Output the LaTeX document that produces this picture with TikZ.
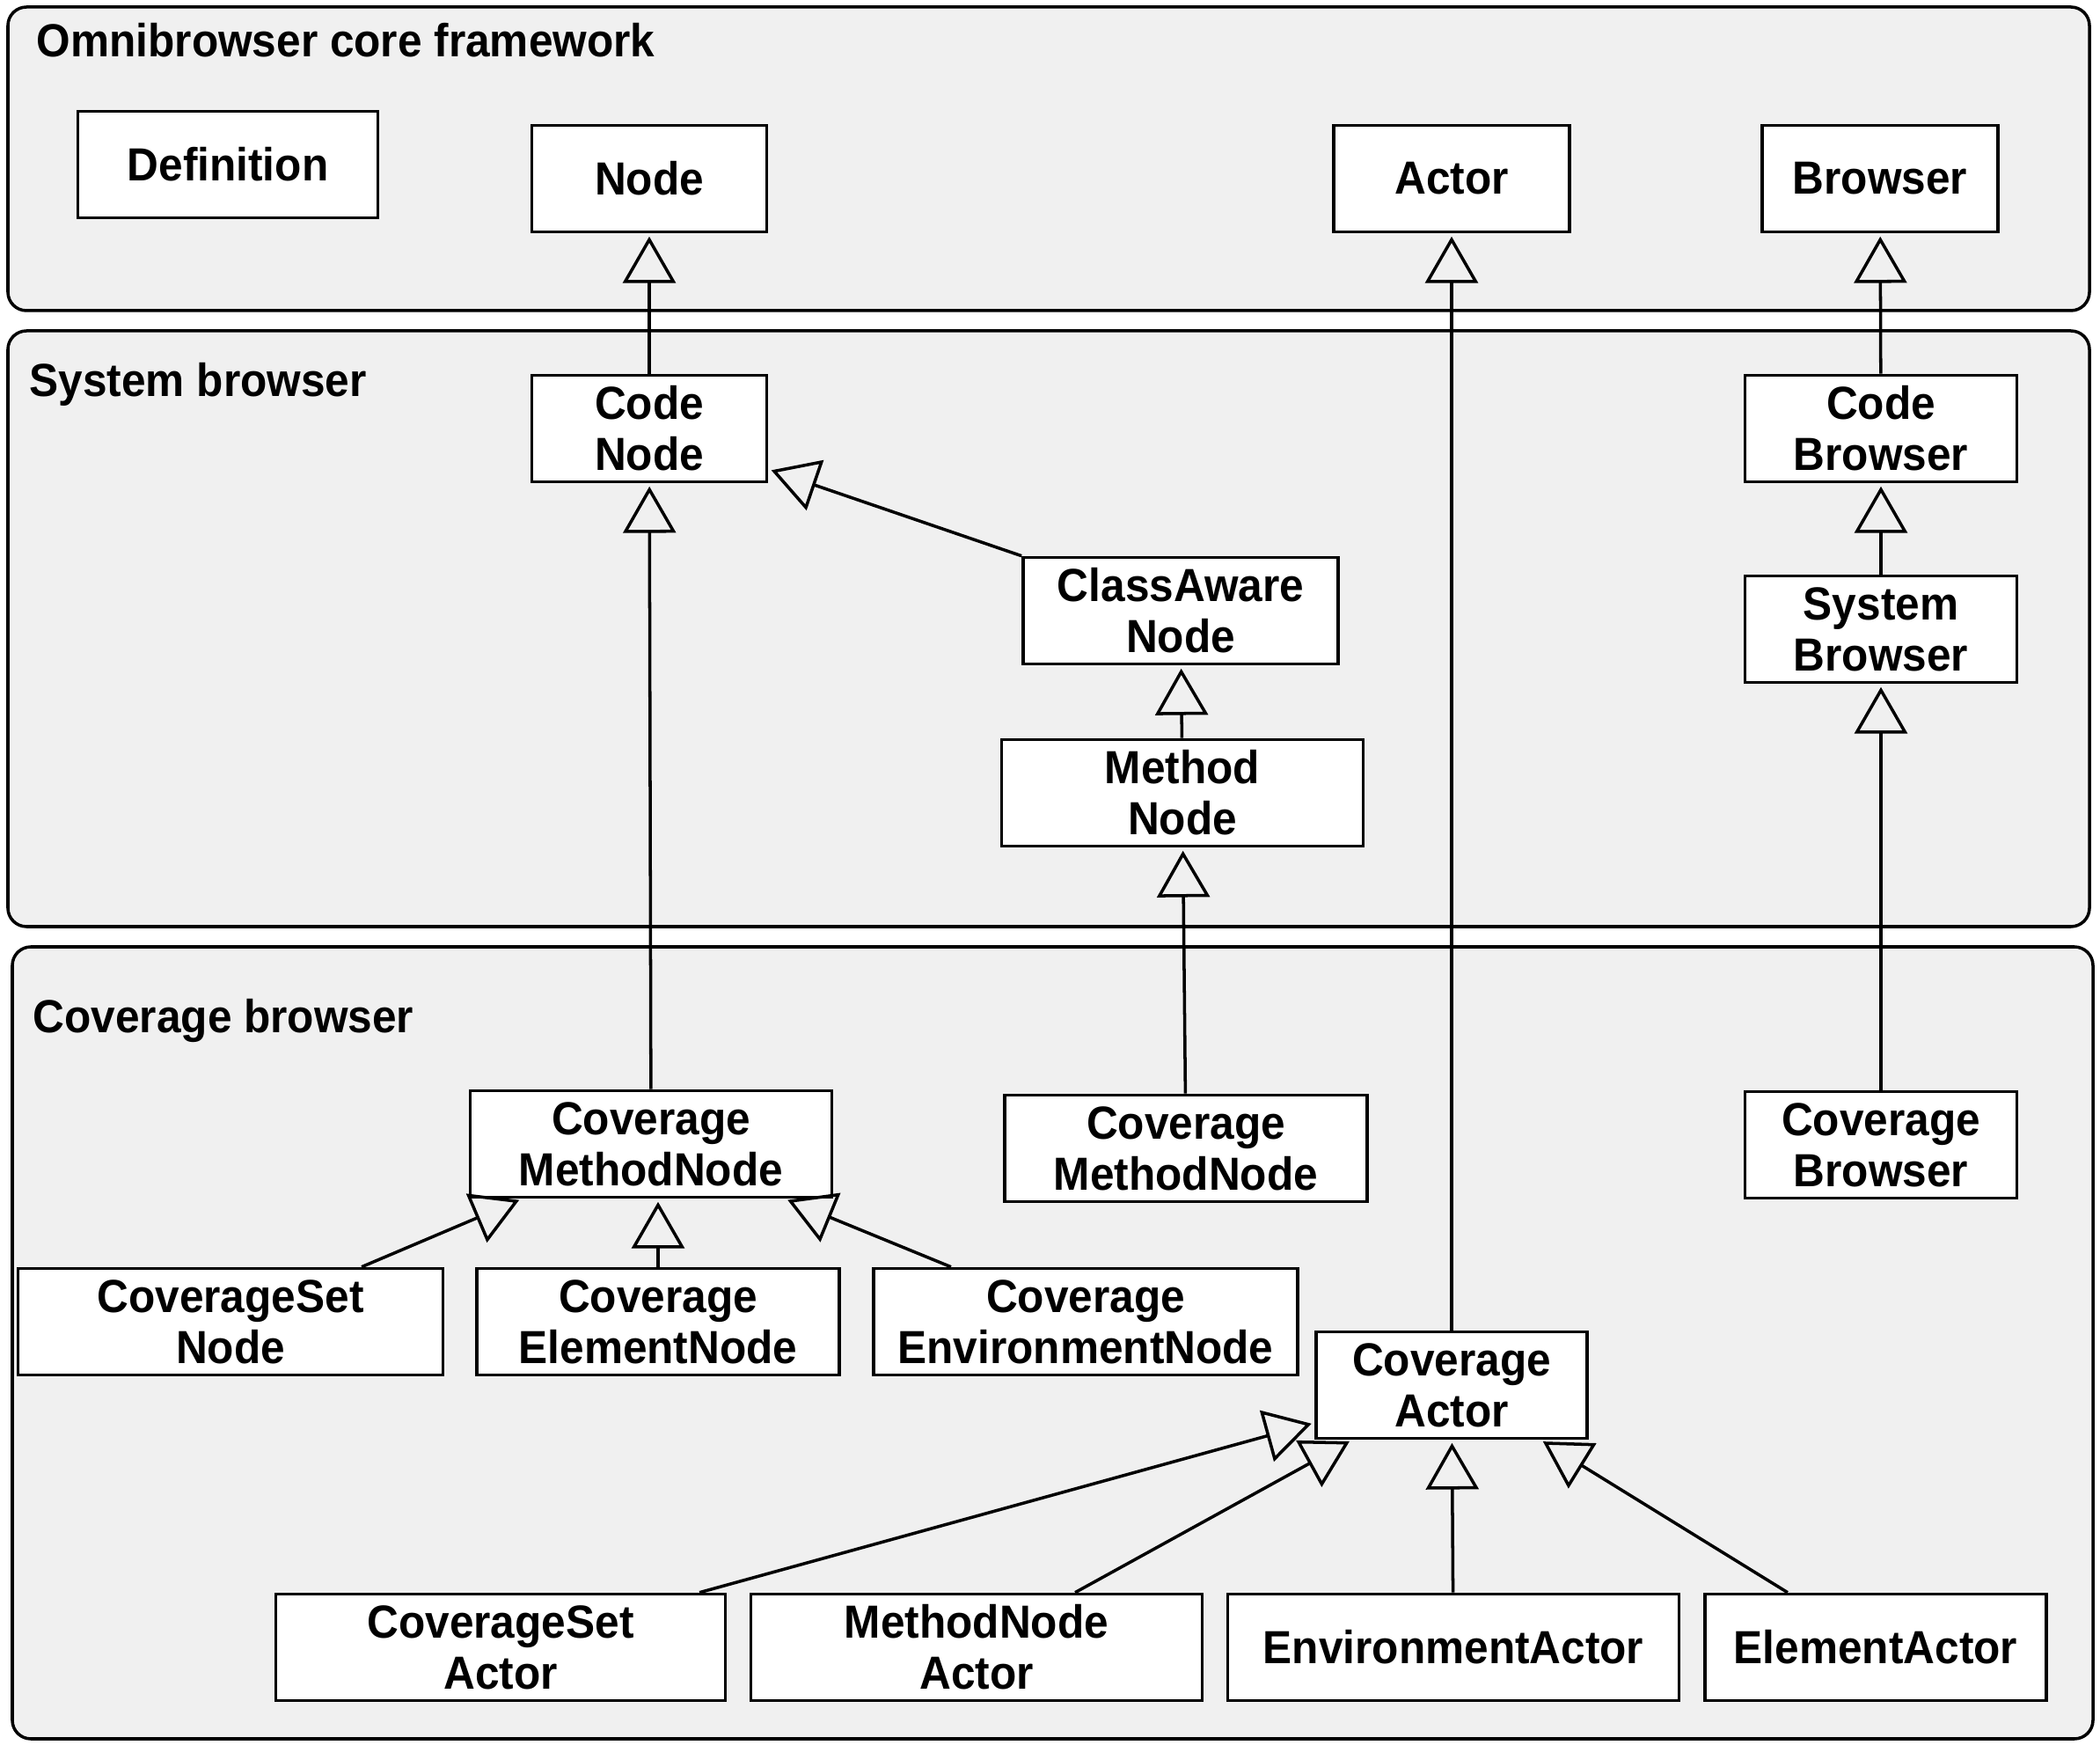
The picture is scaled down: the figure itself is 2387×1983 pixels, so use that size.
\documentclass[tikz,border=0pt]{standalone}
\usepackage{fontspec}
\setmainfont{Liberation Sans}[FakeStretch=0.94]
\usetikzlibrary{arrows.meta,calc}
\definecolor{panelgray}{gray}{0.94}
\begin{document}
\begin{tikzpicture}[x=0.01cm,y=-0.01cm,
  panel/.style={draw=black, line width=1pt, fill=panelgray, rounded corners=6pt},
  cls/.style={draw=black, fill=white, line width=1pt, inner sep=0pt, align=center,
    minimum height=1.21cm, font=\fontsize{15}{16.5}\selectfont\bfseries},
  inh/.style={-{Triangle[open,length=15pt,width=17pt]}, line width=1pt, shorten >=1pt},
  title/.style={anchor=west, inner sep=0pt, font=\fontsize{15}{16.5}\selectfont\bfseries}]
\useasboundingbox (0,0) rectangle (2387,1983);
% panels
\draw[panel] (9,8) rectangle (2375,353);
\draw[panel] (9,376) rectangle (2375,1053);
\draw[panel] (14,1076) rectangle (2379,1976);
\node[title] (t1) at (41,46) {Omnibrowser core framework};
\node[title] (t2) at (33,437) {System browser};
\node[title] (t3) at (37,1160) {Coverage browser};
% core framework
\node[cls, minimum width=3.41cm] (def) at (259,187) {Definition};
\node[cls, minimum width=2.67cm] (node) at (738,203) {Node};
\node[cls, minimum width=2.68cm] (actor) at (1650,203) {Actor};
\node[cls, minimum width=2.68cm] (br) at (2137,203) {Browser};
% system browser
\node[cls, minimum width=2.67cm] (cnode) at (738,487) {Code\\Node};
\node[cls, minimum width=3.09cm] (cbr) at (2138,487) {Code\\Browser};
\node[cls, minimum width=3.58cm] (cls) at (1342,694) {ClassAware\\Node};
\node[cls, minimum width=3.09cm] (sbr) at (2138,715) {System\\Browser};
\node[cls, minimum width=4.11cm] (mnode) at (1344,901) {Method\\Node};
% coverage browser
\node[cls, minimum width=4.11cm] (cmn1) at (740,1300) {Coverage\\MethodNode};
\node[cls, minimum width=4.12cm] (cmn2) at (1348,1305) {Coverage\\MethodNode};
\node[cls, minimum width=3.09cm] (cvbr) at (2138,1301) {Coverage\\Browser};
\node[cls, minimum width=4.83cm] (csn) at (262,1502) {CoverageSet\\Node};
\node[cls, minimum width=4.12cm] (cen) at (748,1502) {Coverage\\ElementNode};
\node[cls, minimum width=4.82cm] (cenv) at (1234,1502) {Coverage\\EnvironmentNode};
\node[cls, minimum width=3.08cm] (ca) at (1650,1574) {Coverage\\Actor};
\node[cls, minimum width=5.11cm] (csa) at (569,1872) {CoverageSet\\Actor};
\node[cls, minimum width=5.13cm] (mna) at (1110,1872) {MethodNode\\Actor};
\node[cls, minimum width=5.13cm] (ena) at (1652,1872) {EnvironmentActor};
\node[cls, minimum width=3.88cm] (ela) at (2132,1872) {ElementActor};
% inheritance
\draw[inh] (cnode) -- (node);
\draw[inh] (ca.north) -- (ca.north |- actor.south);
\draw[inh] (cbr) -- (br);
\draw[inh] (cls.north west) -- (cnode);
\draw[inh] (mnode) -- (cls);
\draw[inh] (cmn1) -- (cnode);
\draw[inh] (cmn2) -- (mnode);
\draw[inh] (sbr) -- (cbr);
\draw[inh] (cvbr) -- (sbr);
\draw[inh] ([xshift=1.49cm]csn.north) -- (cmn1);
\draw[inh] (cen.north) -- (cen.north |- cmn1.south);
\draw[inh] ([xshift=-1.53cm]cenv.north) -- (cmn1);
\draw[inh] ([xshift=2.26cm]csa.north) -- (ca);
\draw[inh] ([xshift=1.12cm]mna.north) -- (ca);
\draw[inh] (ena) -- (ca);
\draw[inh] ([xshift=-1cm]ela.north) -- (ca);
\end{tikzpicture}
\end{document}
